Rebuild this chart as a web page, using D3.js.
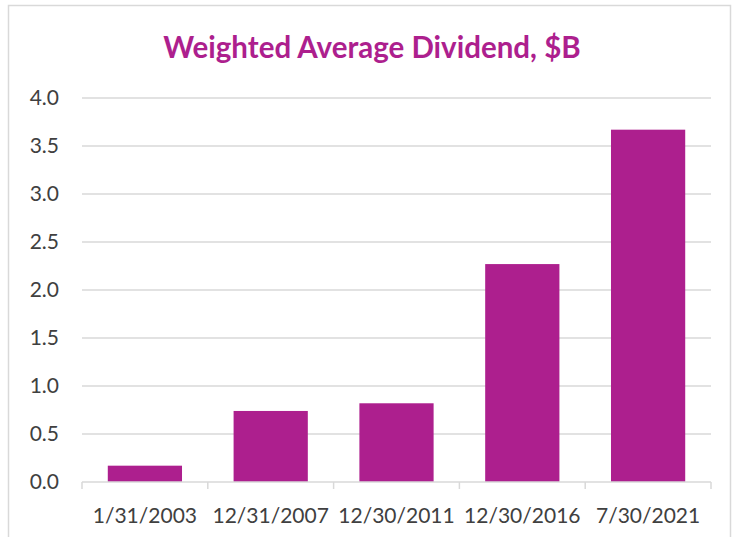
<!DOCTYPE html>
<html><head><meta charset="utf-8">
<script src="https://cdn.jsdelivr.net/npm/d3@7"></script>
<style>body{margin:0;background:#fff;}svg{display:block;}</style>
</head><body>
<script>
const categories = ["1/31/2003","12/31/2007","12/30/2011","12/30/2016","7/30/2021"];
const values = [0.17, 0.74, 0.82, 2.27, 3.67];
const yTicks = [0,0.5,1,1.5,2,2.5,3,3.5,4];
const title = "Weighted Average Dividend, $B";

const W=736,H=537;
const svg=d3.select("body").append("svg").attr("width",W).attr("height",H);
svg.append("rect").attr("x",8.5).attr("y",5.5).attr("width",722).attr("height",540)
  .attr("fill","#fff").attr("stroke","#d9d9d9").attr("stroke-width",1.5);

const m={l:82,r:711,t:98,b:482};
const x=d3.scaleBand().domain(categories).range([m.l,m.r]).paddingInner(0.41).paddingOuter(0.205);
const y=d3.scaleLinear().domain([0,4]).range([m.b,m.t]);

svg.append("g").selectAll("line").data(yTicks.filter(d=>d>0)).join("line")
  .attr("x1",m.l).attr("x2",m.r).attr("y1",d=>y(d)).attr("y2",d=>y(d))
  .attr("stroke","#d9d9d9").attr("stroke-width",1.5);

svg.append("g").selectAll("rect").data(values).join("rect")
  .attr("x",(d,i)=>x(categories[i])).attr("width",x.bandwidth())
  .attr("y",d=>y(d)).attr("height",d=>y(0)-y(d)).attr("fill","#AD1F8E");

const yAxis=d3.axisLeft(y).tickValues(yTicks).tickFormat(d3.format(".1f")).tickSize(0).tickPadding(23);
const gy=svg.append("g").attr("transform",`translate(${m.l},0)`).call(yAxis);
gy.select(".domain").remove();
gy.selectAll("text").attr("font-family","Lato, 'Open Sans', sans-serif").attr("font-size",21).attr("fill","#404040");

// x axis with boundary ticks
const gx=svg.append("g");
gx.append("line").attr("x1",m.l).attr("x2",m.r).attr("y1",m.b).attr("y2",m.b).attr("stroke","#d9d9d9").attr("stroke-width",1.5);
const step=x.step();
const bounds=d3.range(categories.length+1).map(i=>m.l+i*step);
gx.selectAll("line.tk").data(bounds).join("line").attr("class","tk")
  .attr("x1",d=>d).attr("x2",d=>d).attr("y1",m.b).attr("y2",m.b+7).attr("stroke","#d9d9d9").attr("stroke-width",1.5);
gx.selectAll("text").data(categories).join("text")
  .attr("x",d=>x(d)+x.bandwidth()/2).attr("y",523)
  .attr("text-anchor","middle").attr("font-family","Lato, 'Open Sans', sans-serif").attr("font-size",21).attr("fill","#404040")
  .text(d=>d);

svg.append("text").attr("x",372).attr("y",58).attr("text-anchor","middle")
  .attr("font-family","Lato, 'Open Sans', sans-serif").attr("font-weight","bold").attr("font-size",29.5)
  .attr("fill","#AD1F8E").text(title);
</script>
</body></html>
